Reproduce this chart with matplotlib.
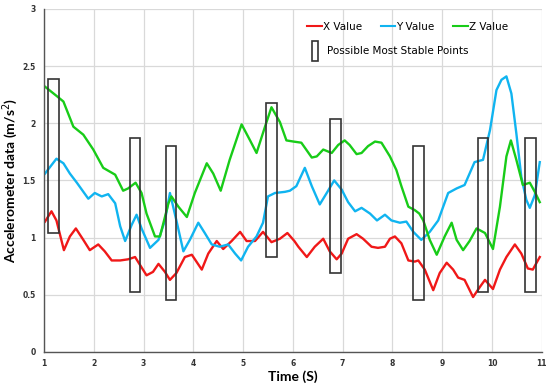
import matplotlib.pyplot as plt
from matplotlib.patches import Rectangle
from matplotlib.lines import Line2D

# X value (red)
x_t = [1.02, 1.15, 1.25, 1.40, 1.52, 1.64, 1.79, 1.92, 2.09, 2.22, 2.36, 2.53, 2.69, 2.83, 2.93,
       3.06, 3.19, 3.30, 3.43, 3.53, 3.66, 3.83, 3.97, 4.17, 4.30, 4.47, 4.60, 4.77, 4.94, 5.07,
       5.24, 5.40, 5.57, 5.74, 5.89, 6.03, 6.11, 6.28, 6.44, 6.61, 6.74, 6.88, 6.98, 7.11, 7.28,
       7.41, 7.58, 7.71, 7.85, 7.95, 8.05, 8.18, 8.32, 8.45, 8.52, 8.65, 8.82, 8.95, 9.09, 9.22,
       9.32, 9.45, 9.62, 9.76, 9.86, 10.02, 10.16, 10.29, 10.46, 10.59, 10.72, 10.82, 10.96]
x_v = [1.14, 1.23, 1.15, 0.89, 1.01, 1.08, 0.98, 0.89, 0.94, 0.88, 0.80, 0.80, 0.81, 0.83, 0.76,
       0.67, 0.70, 0.77, 0.70, 0.63, 0.69, 0.83, 0.85, 0.72, 0.86, 0.97, 0.90, 0.97, 1.05, 0.97,
       0.97, 1.05, 0.96, 0.99, 1.04, 0.97, 0.92, 0.83, 0.92, 0.99, 0.88, 0.81, 0.86, 0.99, 1.03,
       0.99, 0.92, 0.91, 0.92, 0.99, 1.01, 0.95, 0.80, 0.79, 0.80, 0.72, 0.54, 0.69, 0.78, 0.72,
       0.65, 0.63, 0.48, 0.57, 0.63, 0.55, 0.72, 0.83, 0.94, 0.86, 0.73, 0.72, 0.83]

# Y value (blue)
y_t = [1.02, 1.25, 1.39, 1.52, 1.66, 1.89, 2.02, 2.16, 2.29, 2.43, 2.53, 2.63, 2.76, 2.86, 2.96,
       3.13, 3.30, 3.43, 3.53, 3.66, 3.80, 3.93, 4.10, 4.23, 4.37, 4.53, 4.70, 4.84, 4.96, 5.10,
       5.27, 5.40, 5.50, 5.64, 5.84, 5.94, 6.07, 6.24, 6.38, 6.54, 6.68, 6.83, 6.98, 7.11, 7.25,
       7.38, 7.55, 7.69, 7.85, 7.98, 8.15, 8.28, 8.42, 8.58, 8.75, 8.92, 9.12, 9.29, 9.45, 9.65,
       9.82, 9.96, 10.09, 10.19, 10.29, 10.39, 10.49, 10.59, 10.69, 10.76, 10.86, 10.96]
y_v = [1.56, 1.69, 1.65, 1.56, 1.48, 1.34, 1.39, 1.36, 1.38, 1.30, 1.10, 0.97, 1.11, 1.20, 1.08,
       0.91, 0.98, 1.15, 1.39, 1.15, 0.88, 0.98, 1.13, 1.04, 0.94, 0.92, 0.94, 0.86, 0.80, 0.92,
       1.01, 1.13, 1.36, 1.39, 1.40, 1.41, 1.45, 1.61, 1.45, 1.29, 1.39, 1.50, 1.42, 1.31, 1.23,
       1.26, 1.21, 1.15, 1.20, 1.15, 1.13, 1.14, 1.05, 0.98, 1.05, 1.15, 1.39, 1.43, 1.46, 1.66,
       1.68, 1.94, 2.29, 2.38, 2.41, 2.26, 1.91, 1.53, 1.33, 1.26, 1.37, 1.66]

# Z value (green)
z_t = [1.02, 1.25, 1.39, 1.59, 1.79, 1.99, 2.19, 2.43, 2.59, 2.69, 2.84, 2.96, 3.06, 3.23, 3.33,
       3.50, 3.56, 3.70, 3.87, 4.03, 4.27, 4.40, 4.55, 4.73, 4.97, 5.14, 5.27, 5.44, 5.57, 5.74,
       5.87, 6.01, 6.17, 6.38, 6.48, 6.61, 6.78, 6.91, 7.04, 7.14, 7.28, 7.38, 7.51, 7.65, 7.78,
       7.95, 8.08, 8.18, 8.32, 8.45, 8.54, 8.62, 8.75, 8.89, 9.05, 9.19, 9.29, 9.42, 9.55, 9.69,
       9.86, 10.02, 10.16, 10.29, 10.38, 10.49, 10.62, 10.76, 10.86, 10.96]
z_v = [2.32, 2.24, 2.19, 1.97, 1.90, 1.77, 1.61, 1.55, 1.41, 1.43, 1.48, 1.39, 1.21, 1.01, 1.01,
       1.30, 1.36, 1.27, 1.18, 1.39, 1.65, 1.56, 1.41, 1.68, 1.99, 1.85, 1.74, 1.97, 2.14, 2.01,
       1.85, 1.84, 1.83, 1.70, 1.71, 1.77, 1.74, 1.81, 1.85, 1.81, 1.73, 1.74, 1.80, 1.84, 1.83,
       1.71, 1.59, 1.45, 1.27, 1.24, 1.21, 1.15, 0.98, 0.85, 1.01, 1.13, 0.98, 0.89, 0.97, 1.08,
       1.04, 0.90, 1.27, 1.71, 1.85, 1.68, 1.46, 1.48, 1.40, 1.31]

# stable point boxes
box_left = [1.08, 2.73, 3.45, 5.47, 6.75, 8.42, 9.72, 10.67]
box_right = [1.30, 2.93, 3.66, 5.68, 6.96, 8.63, 9.93, 10.89]
box_bottom = [1.04, 0.52, 0.45, 0.83, 0.69, 0.45, 0.52, 0.52]
box_top = [2.39, 1.87, 1.80, 2.18, 2.04, 1.80, 1.87, 1.87]

red = '#f01818'
blue = '#10b4f0'
green = '#18cc18'

fig = plt.figure(figsize=(5.5, 3.88), dpi=100)
ax = fig.add_axes([0.08, 0.093, 0.905, 0.884])

ax.plot(x_t, x_v, color=red, lw=1.7)
ax.plot(y_t, y_v, color=blue, lw=1.7)
ax.plot(z_t, z_v, color=green, lw=1.7)

for l, r, b, t in zip(box_left, box_right, box_bottom, box_top):
    ax.add_patch(Rectangle((l, b), r - l, t - b, fill=False, ec='#333333', lw=1.2, zorder=4))

ax.set_xlim(1, 11)
ax.set_ylim(0, 3)
ax.set_xticks(range(1, 12))
ax.set_yticks([0, 0.5, 1, 1.5, 2, 2.5, 3])
ax.set_yticklabels(['0', '0.5', '1', '1.5', '2', '2.5', '3'])
ax.grid(True, color='#d9d9d9', lw=0.9)
ax.set_axisbelow(True)
for s in ['top', 'right']:
    ax.spines[s].set_visible(False)
for s in ['left', 'bottom']:
    ax.spines[s].set_color('#555555')
    ax.spines[s].set_linewidth(1.0)
ax.tick_params(axis='y', length=0, pad=6, labelsize=5.5, colors='#333333')
ax.tick_params(axis='x', length=0, pad=5, labelsize=5.5, colors='#333333')
for lab in ax.get_xticklabels() + ax.get_yticklabels():
    lab.set_fontweight('bold')

ax.set_xlabel('Time (S)', fontsize=10, fontweight='bold', family='Lato')
ax.set_ylabel('Accelerometer data (m/s$^2$)', fontsize=10, fontweight='bold', family='Lato')
ax.xaxis.set_label_coords(0.5, -0.055)
ax.yaxis.set_label_coords(-0.048, 0.5)

h1 = [Line2D([], [], color=c, lw=1.5) for c in (red, blue, green)]
leg1 = ax.legend(h1, ['X Value', 'Y Value', 'Z Value'], ncol=3, frameon=False,
                 loc='upper left', bbox_to_anchor=(0.51, 0.99), fontsize=7.5,
                 handlelength=1.4, handletextpad=0.1, columnspacing=1.8)
ax.add_artist(leg1)
h2 = [Rectangle((0, 0), 1, 1, fill=False, ec='#333333', lw=1.2)]
ax.legend(h2, ['Possible Most Stable Points'], frameon=False, loc='upper left',
          bbox_to_anchor=(0.52, 0.935), fontsize=7.5, handlelength=0.6, handleheight=2.6,
          handletextpad=0.8)

fig.savefig('out.png', dpi=100)
